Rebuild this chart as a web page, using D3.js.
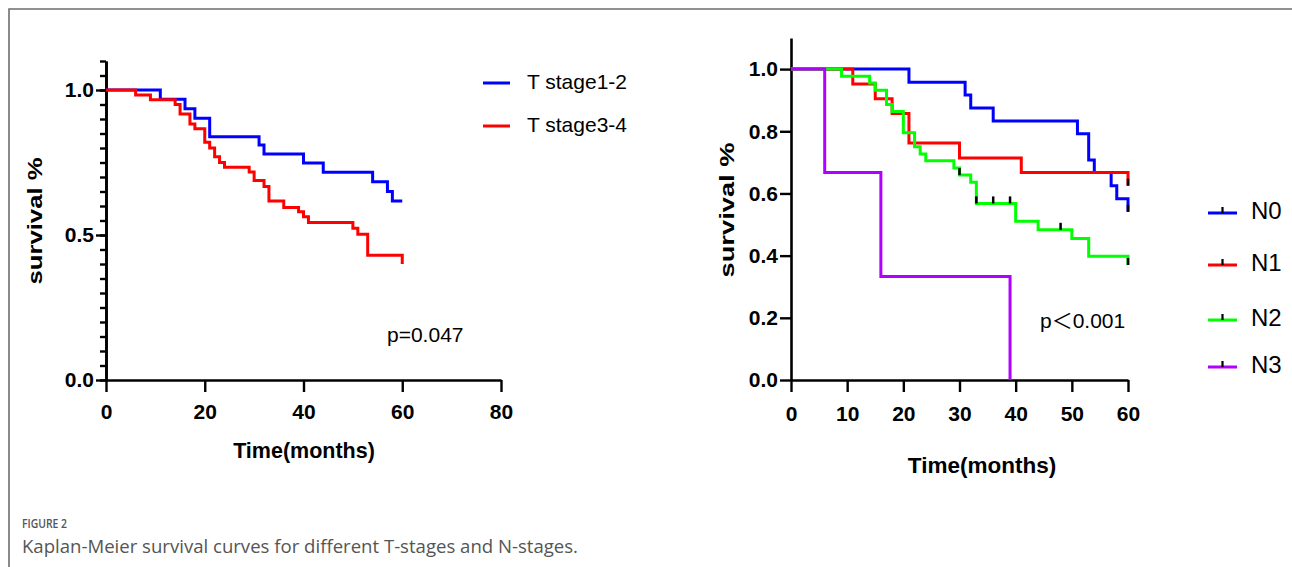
<!DOCTYPE html>
<html>
<head>
<meta charset="utf-8">
<script src="https://cdn.jsdelivr.net/npm/d3@7"></script>
<style>
  body { margin: 0; background: #fff; }
  svg { display: block; }
</style>
</head>
<body>
<div id="chart"></div>
<script>
const width = 1292
const height = 567
const font = "'Liberation Sans', Arial, Helvetica, sans-serif"

// left panel: T stage (months, survival)
const t12Time = [0, 11, 16, 18, 21, 31, 32, 40, 44, 54, 57, 58, 60]
const t12Surv = [1, 0.968, 0.935, 0.903, 0.839, 0.81, 0.779, 0.748, 0.716, 0.684, 0.65, 0.617, 0.617]
const t34Time = [0, 6, 9, 14, 15, 17, 18, 20, 21, 22, 23, 24, 29, 30, 32, 33, 36, 39, 40, 41, 50, 51, 53, 60]
const t34Surv = [1, 0.983, 0.966, 0.95, 0.917, 0.883, 0.866, 0.82, 0.8, 0.77, 0.75, 0.734, 0.717, 0.688, 0.667, 0.617, 0.595, 0.58, 0.563, 0.543, 0.523, 0.503, 0.43, 0.4]
const tNames = ["T stage1-2", "T stage3-4"]

// right panel: N stage
const n0Time = [0, 21, 31, 32, 36, 51, 53, 54, 57, 58, 60]
const n0Surv = [1, 0.958, 0.917, 0.875, 0.833, 0.792, 0.708, 0.667, 0.625, 0.583, 0.541]
const n1Time = [0, 11, 15, 18, 21, 30, 41, 60]
const n1Surv = [1, 0.952, 0.905, 0.857, 0.762, 0.714, 0.667, 0.625]
const n2Time = [0, 9, 14, 15, 17, 18, 20, 22, 23, 24, 29, 30, 32, 33, 40, 44, 50, 53, 60]
const n2Surv = [1, 0.977, 0.955, 0.932, 0.886, 0.864, 0.795, 0.75, 0.727, 0.705, 0.682, 0.659, 0.636, 0.568, 0.511, 0.483, 0.455, 0.398, 0.37]
const n3Time = [0, 6, 16, 39]
const n3Surv = [1, 0.667, 0.333, 0]
// censored observations
const n0CensTime = [60], n0CensSurv = [0.541]
const n1CensTime = [60], n1CensSurv = [0.625]
const n2CensTime = [30, 33, 36, 39, 48, 60], n2CensSurv = [0.659, 0.568, 0.568, 0.568, 0.483, 0.37]
const nNames = ["N0", "N1", "N2", "N3"]

const tColors = ["#0000ff", "#ff0000"]
const nColors = ["#0000ff", "#ff0000", "#00ff00", "#b000ff"]

const zip = (ts, ss) => ts.map((t, i) => ({t: t, s: ss[i]}))
const tSeries = [zip(t12Time, t12Surv), zip(t34Time, t34Surv)]
const nSeries = [zip(n0Time, n0Surv), zip(n1Time, n1Surv), zip(n2Time, n2Surv), zip(n3Time, n3Surv)]
const nCensored = [zip(n0CensTime, n0CensSurv), zip(n1CensTime, n1CensSurv), zip(n2CensTime, n2CensSurv), []]

const svg = d3.select("div#chart").append("svg").attr("width", width).attr("height", height)
  .style("font-family", font)
svg.append("rect").attr("width", width).attr("height", height).attr("fill", "#fff")

// figure frame (top and left edge)
svg.append("path").attr("d", `M9,${height} V9 H${width}`).attr("fill", "none")
  .attr("stroke", "#6e6e6e").attr("stroke-width", 1.6)

function styleAxis(g) {
  g.selectAll("path.domain").attr("stroke", "#000").attr("stroke-width", 2.6)
  g.selectAll(".tick line").attr("stroke", "#000").attr("stroke-width", 2.4)
  g.selectAll(".tick text").attr("fill", "#000").style("font-family", font)
    .style("font-size", "21px").style("font-weight", "bold")
}

// ---------- left panel ----------
const xL = d3.scaleLinear().domain([0, 80]).range([106, 501])
const yL = d3.scaleLinear().domain([0, 1.1]).range([380, 61])

const leftAxes = svg.append("g")
leftAxes.append("g").attr("transform", "translate(106,0)")
  .call(d3.axisLeft(yL).tickValues(d3.range(0, 1.101, 0.05)).tickSize(6).tickSizeOuter(0).tickFormat(""))
  .call(styleAxis)
leftAxes.append("g").attr("transform", "translate(106,0)")
  .call(d3.axisLeft(yL).tickValues([0, 0.5, 1]).tickSize(10).tickSizeOuter(0).tickPadding(2).tickFormat(d3.format(".1f")))
  .call(styleAxis)
leftAxes.append("g").attr("transform", "translate(0,380)")
  .call(d3.axisBottom(xL).tickValues([0, 20, 40, 60, 80]).tickSize(12).tickSizeOuter(0).tickPadding(12))
  .call(styleAxis)

const stepL = d3.line().x(d => xL(d.t)).y(d => yL(d.s)).curve(d3.curveStepAfter)
svg.append("g").selectAll("path").data(tSeries).join("path")
  .attr("d", stepL).attr("fill", "none")
  .attr("stroke", (d, i) => tColors[i]).attr("stroke-width", 3)

svg.append("text").attr("x", 304).attr("y", 458).attr("text-anchor", "middle")
  .style("font-size", "21.5px").style("font-weight", "bold").text("Time(months)")
svg.append("text").attr("transform", "translate(42,221) rotate(-90)").attr("text-anchor", "middle")
  .attr("textLength", 127).attr("lengthAdjust", "spacingAndGlyphs")
  .style("font-size", "21px").style("font-weight", "bold").text("survival %")
svg.append("text").attr("x", 387).attr("y", 336).attr("dominant-baseline", "middle")
  .style("font-size", "21px").text("p=0.047")

const legL = svg.append("g").selectAll("g").data(tNames).join("g")
  .attr("transform", (d, i) => `translate(483,${83 + i * 43})`)
legL.append("line").attr("x1", 0).attr("x2", 27)
  .attr("stroke", (d, i) => tColors[i]).attr("stroke-width", 3)
legL.append("text").attr("x", 44).attr("dominant-baseline", "middle")
  .style("font-size", "21px").text(d => d)

// ---------- right panel ----------
const xR = d3.scaleLinear().domain([0, 60]).range([791, 1128])
const yR = d3.scaleLinear().domain([0, 1.1]).range([380, 38])

svg.append("g").attr("transform", "translate(791,0)")
  .call(d3.axisLeft(yR).tickValues([0, 0.2, 0.4, 0.6, 0.8, 1]).tickSize(11).tickSizeOuter(0).tickPadding(2).tickFormat(d3.format(".1f")))
  .call(styleAxis)
svg.append("g").attr("transform", "translate(0,380)")
  .call(d3.axisBottom(xR).tickValues(d3.range(0, 61, 10)).tickSize(12).tickSizeOuter(0).tickPadding(14))
  .call(styleAxis)

const stepR = d3.line().x(d => xR(d.t)).y(d => yR(d.s)).curve(d3.curveStepAfter)
svg.append("g").selectAll("path").data(nSeries).join("path")
  .attr("d", stepR).attr("fill", "none")
  .attr("stroke", (d, i) => nColors[i]).attr("stroke-width", 3)

// censor ticks
svg.append("g").selectAll("line").data(nCensored.flat()).join("line")
  .attr("x1", d => xR(d.t)).attr("x2", d => xR(d.t))
  .attr("y1", d => yR(d.s) - 7).attr("y2", d => yR(d.s))
  .attr("stroke", "#000").attr("stroke-width", 2.5)

svg.append("text").attr("x", 982).attr("y", 473).attr("text-anchor", "middle")
  .style("font-size", "22.5px").style("font-weight", "bold").text("Time(months)")
svg.append("text").attr("transform", "translate(734,210) rotate(-90)").attr("text-anchor", "middle")
  .attr("textLength", 135).attr("lengthAdjust", "spacingAndGlyphs")
  .style("font-size", "21px").style("font-weight", "bold").text("survival %")
svg.append("text").attr("x", 1040).attr("y", 322).attr("dominant-baseline", "middle")
  .style("font-family", "'Liberation Sans', 'Noto Sans CJK SC', sans-serif")
  .style("font-size", "21px").text("p＜0.001")

const legendY = [213, 265, 320, 367]
const legR = svg.append("g").selectAll("g").data(nNames).join("g")
  .attr("transform", (d, i) => `translate(1208,${legendY[i]})`)
legR.append("line").attr("x1", 0).attr("x2", 29)
  .attr("stroke", (d, i) => nColors[i]).attr("stroke-width", 3)
legR.append("line").attr("x1", 14.5).attr("x2", 14.5).attr("y1", -6).attr("y2", 0)
  .attr("stroke", "#000").attr("stroke-width", 2.2)
legR.append("text").attr("x", 43).attr("dominant-baseline", "middle")
  .style("font-size", "24px").text(d => d)

// ---------- caption ----------
svg.append("text").attr("x", 22).attr("y", 528)
  .attr("textLength", 45).attr("lengthAdjust", "spacingAndGlyphs")
  .style("font-family", "'Open Sans', sans-serif").style("font-size", "13px").style("font-weight", "600")
  .attr("fill", "#555").text("FIGURE 2")
svg.append("text").attr("x", 22).attr("y", 553)
  .attr("textLength", 556).attr("lengthAdjust", "spacingAndGlyphs")
  .style("font-family", "'Open Sans', sans-serif").style("font-size", "18px")
  .attr("fill", "#555").text("Kaplan-Meier survival curves for different T-stages and N-stages.")
</script>
</body>
</html>
